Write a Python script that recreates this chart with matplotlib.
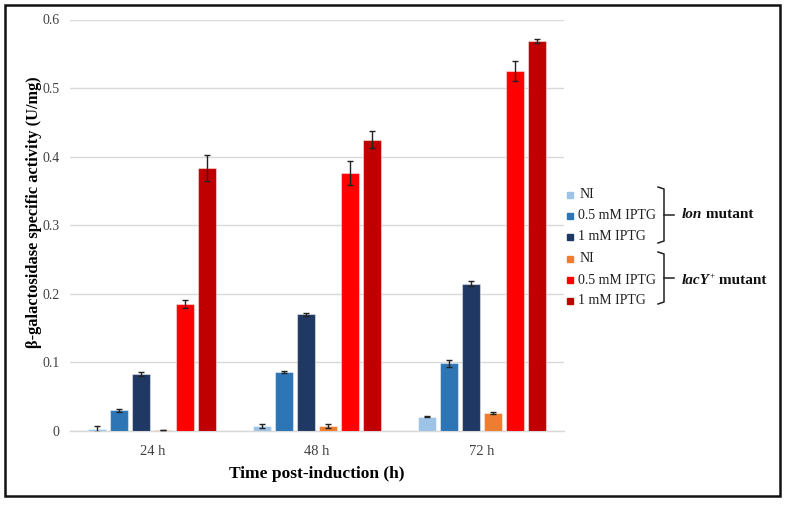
import matplotlib
matplotlib.use('Agg')
import matplotlib.pyplot as plt
import numpy as np
from matplotlib.patches import Rectangle
from matplotlib.lines import Line2D

# ---------------- data ----------------
times = ['24 h', '48 h', '72 h']
series_labels = ['NI', '0.5 mM IPTG', '1 mM IPTG', 'NI', '0.5 mM IPTG', '1 mM IPTG']

lon_ni = [0.003, 0.0075, 0.021]
lon_05 = [0.030, 0.086, 0.099]
lon_1 = [0.083, 0.170, 0.215]
lacy_ni = [0.0015, 0.0075, 0.026]
lacy_05 = [0.185, 0.376, 0.525]
lacy_1 = [0.383, 0.425, 0.569]

err_lon_ni = [0.004, 0.003, 0.001]
err_lon_05 = [0.002, 0.001, 0.005]
err_lon_1 = [0.003, 0.002, 0.003]
err_lacy_ni = [0.0005, 0.003, 0.001]
err_lacy_05 = [0.006, 0.018, 0.015]
err_lacy_1 = [0.019, 0.013, 0.003]

yticks = [0, 0.1, 0.2, 0.3, 0.4, 0.5, 0.6]
ytick_labels = ['0', '0.1', '0.2', '0.3', '0.4', '0.5', '0.6']

colors = ['#9DC3E6', '#2E75B6', '#203864', '#ED7D31', '#FF0000', '#C00000']

values = [lon_ni, lon_05, lon_1, lacy_ni, lacy_05, lacy_1]
errors = [err_lon_ni, err_lon_05, err_lon_1, err_lacy_ni, err_lacy_05, err_lacy_1]

# ---------------- figure ----------------
plt.rcParams['font.family'] = ['Liberation Serif', 'DejaVu Serif']
W, H = 788, 505
fig = plt.figure(figsize=(W / 100, H / 100), dpi=100)

def fx(px):
    return px / W

def fy(py):
    return 1 - py / H

ax = fig.add_axes([fx(70), fy(431), fx(564) - fx(70), fy(19.5) - fy(431)])

x = np.arange(len(times))
pitch = 22 / 165
width = 18 / 165
for i, (vals, errs, c) in enumerate(zip(values, errors, colors)):
    pos = x + (i - 2.5) * pitch
    ax.bar(pos, vals, width=width, color=c, edgecolor=(1, 1, 1, 0.45),
           linewidth=0.8, zorder=3)
    ax.errorbar(pos, vals, yerr=errs, fmt='none', ecolor='#222222',
                elinewidth=1.0, capsize=2.5, capthick=1.0, zorder=4)

ax.set_xlim(-0.5, 2.5)
ax.set_ylim(0, 0.6)
ax.set_yticks(yticks)
ax.set_yticklabels(ytick_labels)
ax.set_xticks(x)
ax.set_xticklabels(times)
ax.yaxis.grid(True, color='#D9D9D9', linewidth=1.0, zorder=0)
ax.set_axisbelow(True)
for s in ['top', 'right', 'left']:
    ax.spines[s].set_visible(False)
ax.spines['bottom'].set_color('#D9D9D9')
ax.spines['bottom'].set_linewidth(1.0)
ax.tick_params(axis='y', length=0, pad=7.5, labelsize=10, labelcolor='#404040')
ax.tick_params(axis='x', length=0, pad=10, labelsize=10.5, labelcolor='#404040')

ax.set_xlabel('Time post-induction (h)', fontsize=12.5, fontweight='bold', labelpad=6)
ax.set_ylabel('\u03b2-galactosidase specific activity (U/mg)', fontsize=11.8,
              fontweight='bold')
ax.yaxis.set_label_coords((42 - 70) / 494, (431 - 212) / 411.5)

# ---------------- custom legend ----------------
row_y = [195, 216, 237, 259, 280, 301]
for lab, c, yy in zip(series_labels, colors, row_y):
    fig.patches.append(Rectangle((fx(567), fy(yy + 3)), fx(6), 6 / H,
                                 transform=fig.transFigure, color=c, figure=fig))
    fig.text(fx(578) if lab != 'NI' else fx(580), fy(yy), lab, fontsize=10,
             va='center', ha='left', color='#202020')

def brace(top, bottom, xl=658, xr=664, tick=674):
    mid = (top + bottom) / 2
    fig.add_artist(Line2D([fx(v) for v in [xl, xr, xr, xl]],
                          [fy(v) for v in [top, top + 2, bottom - 2, bottom]],
                          transform=fig.transFigure, color='#202020', lw=1.1))
    fig.add_artist(Line2D([fx(xr), fx(tick)], [fy(mid), fy(mid)],
                          transform=fig.transFigure, color='#202020', lw=1.1))

brace(187, 243)
brace(252, 304)

fig.canvas.draw()
renderer = fig.canvas.get_renderer()

def seq_text(x0, y0, parts):
    xcur = x0
    for s, style, weight, size, dy in parts:
        t = fig.text(fx(xcur), fy(y0 - dy), s, fontsize=size, fontstyle=style,
                     fontweight=weight, va='center', ha='left', color='#111111')
        bb = t.get_window_extent(renderer=renderer)
        xcur += bb.width

seq_text(682, 215, [('lon', 'italic', 'bold', 11, 0),
                    (' mutant', 'normal', 'bold', 11, 0)])
seq_text(682, 281, [('lacY', 'italic', 'bold', 11, 0),
                    ('+', 'normal', 'normal', 6.5, 5),
                    (' mutant', 'normal', 'bold', 11, 0)])

# ---------------- outer frame ----------------
fig.patches.append(Rectangle((fx(5), fy(496)), fx(780) - fx(5), fy(5) - fy(496),
                             transform=fig.transFigure, fill=False,
                             edgecolor='#111111', linewidth=1.8, figure=fig))

fig.savefig('out.png', dpi=100)
